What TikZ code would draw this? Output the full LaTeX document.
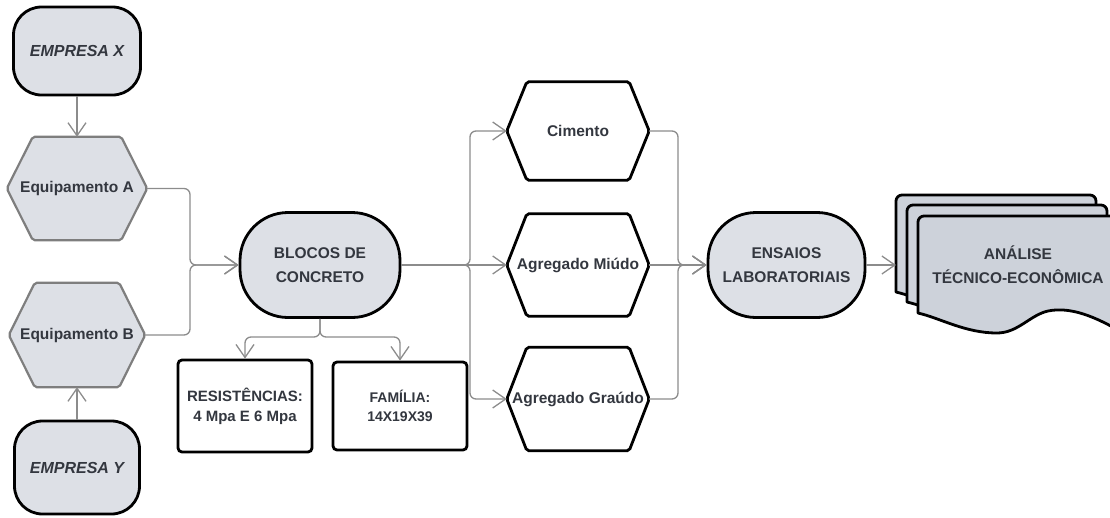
\documentclass[tikz,border=0pt]{standalone}
\usepackage{fontspec}
\setmainfont{Liberation Sans}
\usetikzlibrary{arrows.meta,backgrounds}
\definecolor{txt}{HTML}{33373F}
\definecolor{fillg}{HTML}{DDE0E6}
\definecolor{docg}{HTML}{CDD2DA}
\definecolor{connc}{HTML}{8C8C8C}
\definecolor{hexb}{HTML}{7E7E7E}
\newcommand{\hexshape}[3]{\draw[#3] (#1.west) -- ([xshift=#2]#1.north west) -- ([xshift=-#2]#1.north east) -- (#1.east) -- ([xshift=-#2]#1.south east) -- ([xshift=#2]#1.south west) -- cycle;}
\newcommand{\docsheet}[1]{\begin{scope}[shift={(#1)}]
 \draw[sheet] (918,313) [rounded corners=6pt] -- (918,216) -- (1118,216) [sharp corners] -- (1118,330)
   .. controls (1090,314) and (1068,307) .. (1048,311)
   .. controls (1030,315) and (1018,333) .. (997,333)
   .. controls (965,333) and (940,318) .. (918,313) -- cycle;
 \end{scope}}
\begin{document}
\begin{tikzpicture}[x=1pt,y=-1pt,
 base/.style={inner sep=0pt, align=center, text=txt, font=\fontsize{15.5}{24}\selectfont\bfseries},
 term/.style={base, draw=black, line width=2.8pt, fill=fillg},
 hexnode/.style={base},
 boxnode/.style={base, draw=black, line width=2.8pt, fill=white, rounded corners=4pt},
 hexgrey/.style={draw=hexb, line width=2.2pt, fill=fillg, rounded corners=2pt},
 hexwhite/.style={draw=black, line width=2.8pt, fill=white, rounded corners=2pt},
 conn/.style={draw=connc, line width=1.3pt, rounded corners=6pt, -{Straight Barb[length=13pt,width=18pt,line width=1.3pt]}},
 sheet/.style={draw=black, line width=2.8pt, fill=docg, line join=round},
]
\useasboundingbox (0,0) rectangle (1110,517);
\clip (0,0) rectangle (1110,517);

% terminals
\node[term, minimum width=127pt, minimum height=88pt, rounded corners=28pt, font=\fontsize{16}{20}\selectfont\bfseries\itshape] (EX) at (77,51) {EMPRESA X};
\node[term, minimum width=125pt, minimum height=93pt, rounded corners=28pt, font=\fontsize{16}{20}\selectfont\bfseries\itshape] (EY) at (77,467.5) {EMPRESA Y};
\node[term, minimum width=160pt, minimum height=105pt, rounded corners=48pt] (BL) at (320,265) {BLOCOS DE\\CONCRETO};
\node[term, minimum width=157pt, minimum height=105pt, rounded corners=48pt] (EN) at (786.5,265) {ENSAIOS\\LABORATORIAIS};

% hexagons
\node[hexnode, minimum width=140pt, minimum height=103pt] (EA) at (77,188.5) {Equipamento A};
\node[hexnode, minimum width=136pt, minimum height=104pt] (EB) at (77,335) {Equipamento B};
\node[hexnode, minimum width=142pt, minimum height=98pt] (CI) at (578,131) {Cimento};
\node[hexnode, minimum width=142pt, minimum height=102pt] (MI) at (578,265) {Agregado Miúdo};
\node[hexnode, minimum width=142pt, minimum height=103pt] (GR) at (578,399) {Agregado Graúdo};
\begin{scope}[on background layer]
\hexshape{EA}{26pt}{hexgrey}
\hexshape{EB}{26pt}{hexgrey}
\hexshape{CI}{20pt}{hexwhite}
\hexshape{MI}{20pt}{hexwhite}
\hexshape{GR}{20pt}{hexwhite}
\end{scope}

% boxes
\node[boxnode, minimum width=134pt, minimum height=92pt, font=\fontsize{15}{20}\selectfont\bfseries] (RE) at (245,406) {RESISTÊNCIAS:\\4 Mpa E 6 Mpa};
\node[boxnode, minimum width=134pt, minimum height=88pt, font=\fontsize{14}{19}\selectfont\bfseries] (FA) at (400,406) {FAMÍLIA:\\14X19X39};

% multi-document
\docsheet{-22,-21}
\docsheet{-11,-11}
\docsheet{0,0}
\node[base] (AN) at (1018,265) {ANÁLISE\\TÉCNICO-ECONÔMICA};
\coordinate (docin) at (896,265);

% connectors
\coordinate (j1) at (190,265);
\coordinate (j2) at (320,337);
\coordinate (j3) at (470,265);
\coordinate (j4) at (678,265);
\draw[conn] (EX.south) -- (EA.north);
\draw[conn] (EY.north) -- (EB.south);
\draw[conn] (EA.east) -| (j1) -- (BL.west);
\draw[conn] (EB.east) -| (j1) -- (BL.west);
\draw[conn] (BL.south) -- (j2) -| (RE.north);
\draw[conn] (BL.south) -- (j2) -| (FA.north);
\draw[conn] (BL.east) -- (j3) |- (CI.west);
\draw[conn] (BL.east) -- (MI.west);
\draw[conn] (BL.east) -- (j3) |- (GR.west);
\draw[conn] (CI.east) -| (j4) -- (EN.west);
\draw[conn] (MI.east) -- (EN.west);
\draw[conn] (GR.east) -| (j4) -- (EN.west);
\draw[conn] (EN.east) -- (docin);
\end{tikzpicture}
\end{document}
